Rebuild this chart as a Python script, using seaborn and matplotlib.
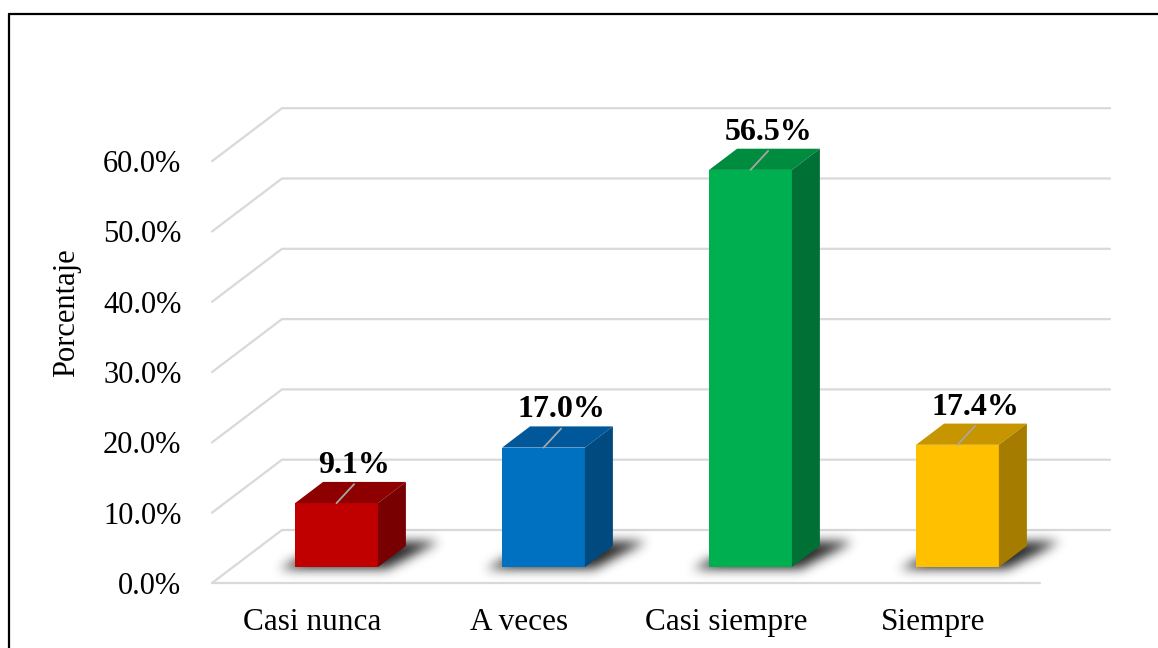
import numpy as np
import matplotlib
matplotlib.use("Agg")
import matplotlib.pyplot as plt
import seaborn as sns
from matplotlib.patches import Polygon
from matplotlib.lines import Line2D
from matplotlib.path import Path

# ---- data ----
categories = ["Casi nunca", "A veces", "Casi siempre", "Siempre"]
values = [9.1, 17.0, 56.5, 17.4]
value_labels = ["9.1%", "17.0%", "56.5%", "17.4%"]
y_ticks = [0, 10, 20, 30, 40, 50, 60]
y_tick_labels = ["0.0%", "10.0%", "20.0%", "30.0%", "40.0%", "50.0%", "60.0%"]
y_title = "Porcentaje"

# ---- styling ----
front_colors = ["#C00000", "#0070C0", "#00B050", "#FFC000"]
top_colors = ["#8E0000", "#00579A", "#008C3F", "#C79500"]
side_colors = ["#780000", "#004A80", "#007034", "#A67C00"]
grid_color = "#D9D9D9"

W, H, DPI = 1158, 648, 100
sns.set_theme(style="white")
plt.rcParams["font.family"] = ["Liberation Serif", "DejaVu Serif"]

fig = plt.figure(figsize=(W / DPI, H / DPI), dpi=DPI, facecolor="white")

# axes geometry in pixels
ax_left, ax_bottom = 212, 65
px_per_cat = 207.0
px_per_pct = 7.03
ax_w = 900
y_top = 70
ax_h = y_top * px_per_pct
ax = fig.add_axes([ax_left / W, ax_bottom / H, ax_w / W, ax_h / H])

# depth of the floor / back wall (data units)
DX = 70 / px_per_cat
DY = 53 / px_per_pct
f0, f1 = 0.30, 0.70      # bar front / back depth fraction
bar_w = 0.40

# front faces
sns.barplot(x=categories, y=values, hue=categories, palette=front_colors,
            width=bar_w, legend=False, ax=ax, saturation=1,
            edgecolor="none", linewidth=0, zorder=4)

bars = sorted(ax.patches, key=lambda p: p.get_x())
for p in bars:
    p.set_x(p.get_x() + f0 * DX)
    p.set_y(f0 * DY)

xlim = (-0.5, -0.5 + ax_w / px_per_cat)
ax.set_xlim(*xlim)
ax.set_ylim(0, y_top)

# gridlines: diagonal on the side wall and horizontal on the back wall
for v in y_ticks:
    ax.plot([-0.5, -0.5 + DX, 3.5 + DX], [v, v + DY, v + DY],
            color=grid_color, lw=1.6, zorder=1, clip_on=False,
            solid_joinstyle="miter")
ax.plot([-0.5, 3.5], [0, 0], color=grid_color, lw=1.6, zorder=1, clip_on=False)

# soft floor shadows behind each bar
gx0, gx1 = -0.6, 3.85
gy0, gy1 = -0.5, 12.0
nx = int((gx1 - gx0) * px_per_cat)
ny = int((gy1 - gy0) * px_per_pct)
xs = np.linspace(gx0, gx1, nx)
ys = np.linspace(gy0, gy1, ny)
XX, YY = np.meshgrid(xs, ys)
pts = np.column_stack([XX.ravel(), YY.ravel()])
mask = np.zeros(XX.size)
s0, s1 = 0.27, 0.80
for i, v in enumerate(values):
    xl, xr = i - bar_w / 2, i + bar_w / 2
    poly = [(xl - 0.07 + s0 * DX, s0 * DY), (xr + 0.05 + s0 * DX, s0 * DY),
            (xr + 0.13 + s1 * DX, s1 * DY), (xl + 0.02 + s1 * DX, s1 * DY)]
    mask = np.maximum(mask, Path(poly).contains_points(pts).astype(float))
mask = mask.reshape(XX.shape)


def gauss_blur(a, sigma):
    r = int(3 * sigma)
    k = np.exp(-0.5 * (np.arange(-r, r + 1) / sigma) ** 2)
    k /= k.sum()
    a = np.apply_along_axis(lambda m: np.convolve(m, k, mode="same"), 1, a)
    a = np.apply_along_axis(lambda m: np.convolve(m, k, mode="same"), 0, a)
    return a


shadow = gauss_blur(mask, 5.5)
rgba = np.zeros(shadow.shape + (4,))
rgba[..., 3] = np.clip(shadow * 0.85, 0, 1)
ax.imshow(rgba, extent=(gx0, gx1, gy0, gy1), origin="lower",
          aspect="auto", zorder=2, interpolation="bilinear", clip_on=False)
ax.set_xlim(*xlim)
ax.set_ylim(0, y_top)

# top and side faces, leader lines and value labels
for i, v in enumerate(values):
    xl, xr = i - bar_w / 2, i + bar_w / 2
    top = [(xl + f0 * DX, v + f0 * DY), (xr + f0 * DX, v + f0 * DY),
           (xr + f1 * DX, v + f1 * DY), (xl + f1 * DX, v + f1 * DY)]
    side = [(xr + f0 * DX, f0 * DY), (xr + f1 * DX, f1 * DY),
            (xr + f1 * DX, v + f1 * DY), (xr + f0 * DX, v + f0 * DY)]
    ax.add_patch(Polygon(top, closed=True, facecolor=top_colors[i],
                         edgecolor="none", zorder=5))
    ax.add_patch(Polygon(side, closed=True, facecolor=side_colors[i],
                         edgecolor="none", zorder=5))
    x0, y0 = i + f0 * DX, v + f0 * DY
    x1, y1 = x0 + 0.085, y0 + 2.7
    ax.plot([x0, x1], [y0, y1], color="#A6A6A6", lw=1.3, zorder=6,
            clip_on=False)
    ax.annotate(value_labels[i], xy=(x1, y1), xytext=(0, 8),
                textcoords="offset points", ha="center", va="baseline",
                fontsize=23, fontweight="bold", color="black", zorder=7,
                annotation_clip=False)

# axes decoration
ax.set_yticks(y_ticks, y_tick_labels)
ax.set_xticks([t - 0.015 for t in range(len(categories))], categories)
ax.tick_params(axis="y", length=0, pad=22, labelsize=22, colors="black")
ax.tick_params(axis="x", length=0, pad=18, labelsize=22.5, colors="black")
for s in ax.spines.values():
    s.set_visible(False)
ax.set_xlabel("")
ax.set_ylabel(y_title, fontsize=22, color="black")
ax.yaxis.set_label_coords((81 - ax_left) / ax_w, (H - 313 - ax_bottom) / ax_h)
ax.set_facecolor("none")

# outer frame of the chart area
bx, by = 8.5 / W, 1 - 13.5 / H
fig.add_artist(Line2D([bx, 1.0], [by, by], color="black", lw=1.6,
                      transform=fig.transFigure))
fig.add_artist(Line2D([bx, bx], [by, 0.0], color="black", lw=1.6,
                      transform=fig.transFigure))

fig.savefig("out.png", dpi=DPI, facecolor="white")
